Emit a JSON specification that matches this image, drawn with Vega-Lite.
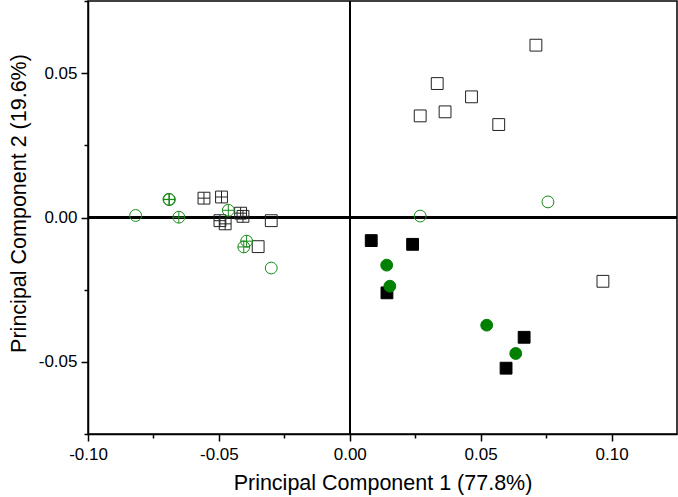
{
  "$schema": "https://vega.github.io/schema/vega-lite/v6.json",
  "width": 589,
  "height": 433,
  "autosize": "none",
  "padding": {"left": 88, "top": 1, "right": 1, "bottom": 63},
  "background": "white",
  "config": {
    "view": {"stroke": "black", "strokeWidth": 1.5},
    "font": "Liberation Sans"
  },
  "data": {
    "values": [
      {"x": 0.0711, "y": 0.0597, "m": "open_sq"},
      {"x": 0.0334, "y": 0.0464, "m": "open_sq"},
      {"x": 0.0465, "y": 0.0418, "m": "open_sq"},
      {"x": 0.0269, "y": 0.0352, "m": "open_sq"},
      {"x": 0.0364, "y": 0.0366, "m": "open_sq"},
      {"x": 0.0569, "y": 0.0322, "m": "open_sq"},
      {"x": 0.0967, "y": -0.0221, "m": "open_sq"},
      {"x": -0.0300, "y": -0.0011, "m": "open_sq"},
      {"x": -0.0350, "y": -0.0101, "m": "open_sq"},
      {"x": 0.0757, "y": 0.0054, "m": "open_ci"},
      {"x": 0.0269, "y": 0.0005, "m": "open_ci"},
      {"x": -0.0818, "y": 0.0007, "m": "open_ci"},
      {"x": -0.0300, "y": -0.0175, "m": "open_ci"},
      {"x": 0.0082, "y": -0.0080, "m": "fill_sq"},
      {"x": 0.0240, "y": -0.0093, "m": "fill_sq"},
      {"x": 0.0142, "y": -0.0261, "m": "fill_sq"},
      {"x": 0.0666, "y": -0.0415, "m": "fill_sq"},
      {"x": 0.0597, "y": -0.0522, "m": "fill_sq"},
      {"x": 0.0141, "y": -0.0165, "m": "fill_ci"},
      {"x": 0.0153, "y": -0.0238, "m": "fill_ci"},
      {"x": 0.0523, "y": -0.0373, "m": "fill_ci"},
      {"x": 0.0634, "y": -0.0471, "m": "fill_ci"},
      {"x": -0.0557, "y": 0.0067, "m": "cross_sq"},
      {"x": -0.0490, "y": 0.0071, "m": "cross_sq"},
      {"x": -0.0417, "y": 0.0015, "m": "cross_sq"},
      {"x": -0.0408, "y": 0.0004, "m": "cross_sq"},
      {"x": -0.0496, "y": -0.0011, "m": "cross_sq"},
      {"x": -0.0476, "y": -0.0022, "m": "cross_sq"},
      {"x": -0.0691, "y": 0.0063, "m": "cross_ci"},
      {"x": -0.0689, "y": 0.0062, "m": "cross_ci"},
      {"x": -0.0653, "y": 0.0001, "m": "cross_ci"},
      {"x": -0.0464, "y": 0.0025, "m": "cross_ci"},
      {"x": -0.0394, "y": -0.0082, "m": "cross_ci"},
      {"x": -0.0405, "y": -0.0102, "m": "cross_ci"}
    ]
  },
  "encoding": {
    "x": {
      "field": "x", "type": "quantitative",
      "scale": {"domain": [-0.1, 0.125], "nice": false, "zero": false},
      "axis": {
        "title": "Principal Component 1 (77.8%)",
        "values": [-0.1, -0.075, -0.05, -0.025, 0, 0.025, 0.05, 0.075, 0.1],
        "labelExpr": "abs(datum.value*20 - round(datum.value*20)) < 0.001 ? replace(format(datum.value, '.2f'), '\u2212', '-') : ''",
        "tickSize": {"condition": {"test": "abs(datum.value*20 - round(datum.value*20)) < 0.001", "value": 7}, "value": 4},
        "domainColor": "black", "domainWidth": 1.5,
        "tickColor": "black", "tickWidth": 1.5,
        "labelColor": "black", "labelFontSize": 17, "labelPadding": 5,
        "labelFlush": false, "labelOverlap": false,
        "titleColor": "black", "titleFontSize": 21.5, "titleFontWeight": "normal", "titlePadding": 10,
        "grid": false
      }
    },
    "y": {
      "field": "y", "type": "quantitative",
      "scale": {"domain": [-0.075, 0.075], "nice": false, "zero": false},
      "axis": {
        "title": "Principal Component 2 (19.6%)",
        "values": [-0.075, -0.05, -0.025, 0, 0.025, 0.05, 0.075],
        "labelExpr": "abs(datum.value*20 - round(datum.value*20)) < 0.001 ? replace(format(datum.value, '.2f'), '\u2212', '-') : ''",
        "tickSize": {"condition": {"test": "abs(datum.value*20 - round(datum.value*20)) < 0.001", "value": 7}, "value": 4},
        "domainColor": "black", "domainWidth": 1.5,
        "tickColor": "black", "tickWidth": 1.5,
        "labelColor": "black", "labelFontSize": 17, "labelPadding": 4,
        "labelFlush": false, "labelOverlap": false,
        "titleColor": "black", "titleFontSize": 21.5, "titleFontWeight": "normal", "titlePadding": 8,
        "titleY": 202,
        "grid": false
      }
    }
  },
  "layer": [
    {"mark": {"type": "rule", "color": "black", "strokeWidth": 1.5}, "encoding": {"x": {"datum": 0}, "y": null}},
    {"mark": {"type": "rule", "color": "black", "strokeWidth": 1.5}, "encoding": {"y": {"datum": 0}, "x": null}},
    {
      "mark": {"type": "point", "strokeWidth": 1, "opacity": 1, "size": 140},
      "encoding": {
        "shape": {"field": "m", "type": "nominal", "legend": null,
          "scale": {"domain": ["open_sq", "open_ci", "fill_sq", "fill_ci", "cross_sq", "cross_ci"],
                    "range": ["square", "circle", "square", "circle", "square", "circle"]}},
        "stroke": {"field": "m", "type": "nominal", "legend": null,
          "scale": {"domain": ["open_sq", "open_ci", "fill_sq", "fill_ci", "cross_sq", "cross_ci"],
                    "range": ["#222222", "#1a8a1a", "black", "#008000", "#222222", "#1a8a1a"]}},
        "fill": {"field": "m", "type": "nominal", "legend": null,
          "scale": {"domain": ["open_sq", "open_ci", "fill_sq", "fill_ci", "cross_sq", "cross_ci"],
                    "range": ["transparent", "transparent", "black", "#008000", "transparent", "transparent"]}}
      }
    },
    {
      "transform": [{"filter": "datum.m == 'cross_sq' || datum.m == 'cross_ci'"}],
      "mark": {"type": "point", "strokeWidth": 1, "opacity": 1, "size": 140, "filled": false,
               "shape": "M -1 0 L 1 0 M 0 -1 L 0 1"},
      "encoding": {
        "stroke": {"field": "m", "type": "nominal", "legend": null,
          "scale": {"domain": ["open_sq", "open_ci", "fill_sq", "fill_ci", "cross_sq", "cross_ci"],
                    "range": ["#222222", "#1a8a1a", "black", "#008000", "#222222", "#1a8a1a"]}}
      }
    }
  ]
}
